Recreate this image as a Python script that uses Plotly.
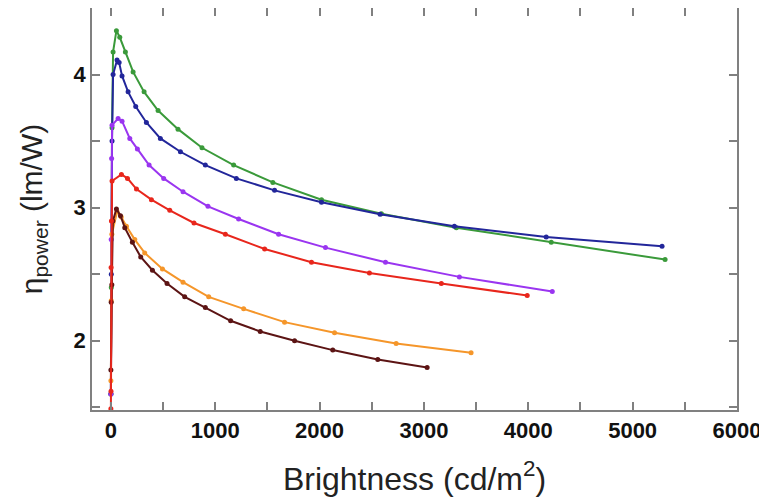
import plotly.graph_objects as go

# Brightness (cd/m^2) and power efficiency (lm/W) for six devices
green_x = [1, 5, 12, 22, 54, 86, 140, 214, 319, 453, 644, 874, 1177, 1553, 2019, 2593, 3311, 4220, 5311]
green_y = [1.6, 2.4, 3.6, 4.17, 4.33, 4.28, 4.17, 4.02, 3.87, 3.73, 3.59, 3.45, 3.32, 3.19, 3.06, 2.955, 2.85, 2.74, 2.61]

blue_x = [1, 5, 12, 22, 60, 80, 108, 166, 239, 341, 475, 667, 906, 1203, 1569, 2019, 2580, 3292, 4172, 5282]
blue_y = [1.6, 2.5, 3.5, 4.0, 4.11, 4.09, 3.99, 3.87, 3.76, 3.64, 3.52, 3.42, 3.32, 3.22, 3.13, 3.04, 2.95, 2.86, 2.78, 2.71]

purple_x = [1, 4, 8, 12, 70, 108, 182, 255, 367, 507, 692, 931, 1225, 1608, 2057, 2632, 3340, 4230]
purple_y = [1.6, 2.76, 3.37, 3.62, 3.67, 3.65, 3.52, 3.44, 3.32, 3.22, 3.12, 3.01, 2.915, 2.80, 2.70, 2.59, 2.48, 2.37]

red_x = [1, 2, 3, 6, 12, 102, 160, 246, 389, 565, 797, 1098, 1474, 1923, 2478, 3167, 3990]
red_y = [1.49, 1.62, 2.55, 2.9, 3.20, 3.25, 3.22, 3.14, 3.06, 2.98, 2.885, 2.80, 2.69, 2.59, 2.51, 2.43, 2.34]

orange_x = [1, 4, 10, 60, 100, 150, 230, 325, 495, 692, 938, 1273, 1665, 2144, 2734, 3452]
orange_y = [1.7, 2.3, 2.8, 2.97, 2.93, 2.86, 2.76, 2.66, 2.54, 2.44, 2.33, 2.24, 2.14, 2.06, 1.98, 1.91]

brown_x = [1, 4, 10, 20, 54, 93, 134, 207, 287, 399, 539, 708, 906, 1148, 1432, 1761, 2127, 2558, 3031]
brown_y = [1.78, 2.29, 2.42, 2.9, 2.99, 2.94, 2.85, 2.74, 2.63, 2.53, 2.43, 2.33, 2.25, 2.15, 2.07, 2.00, 1.93, 1.86, 1.80]

x_ticks = [0, 1000, 2000, 3000, 4000, 5000, 6000]
y_ticks = [2, 3, 4]

series = [
    (green_x, green_y, "#3a9a3a"),
    (blue_x, blue_y, "#22269a"),
    (purple_x, purple_y, "#9a35f0"),
    (orange_x, orange_y, "#f5962a"),
    (brown_x, brown_y, "#5c1414"),
    (red_x, red_y, "#e8261c"),
]

fig = go.Figure()
for xs, ys, c in series:
    fig.add_trace(go.Scatter(x=xs, y=ys, mode="lines+markers",
                             line=dict(color=c, width=2),
                             marker=dict(color=c, size=5),
                             cliponaxis=True, showlegend=False))

axis_common = dict(showline=True, mirror="ticks", linecolor="#808080", linewidth=1.5,
                   ticks="inside", ticklen=8, tickcolor="#808080", tickwidth=1.5,
                   showgrid=False, zeroline=False, automargin=False,
                   tickfont=dict(family="Liberation Sans, Arial", size=22, color="#111111", weight="bold"))

fig.update_xaxes(range=[-180, 6000], tickvals=x_ticks,
                 minor=dict(dtick=500, tick0=0, ticks="inside", ticklen=8, tickcolor="#808080", tickwidth=1.5),
                 title=dict(text="Brightness (cd/m<sup>2</sup>)", standoff=25,
                            font=dict(family="Liberation Sans, Arial", size=32, color="#222222")),
                 **axis_common)
fig.update_yaxes(range=[1.48, 4.5], tickvals=y_ticks,
                 minor=dict(dtick=0.5, tick0=0, ticks="inside", ticklen=8, tickcolor="#808080", tickwidth=1.5),
                 title=dict(text="η<sub>power</sub> (lm/W)", standoff=22,
                            font=dict(family="Liberation Sans, Arial", size=30, color="#222222")),
                 **axis_common)

# the page body has an 8px default margin, so the figure is sized/offset to compensate
fig.update_layout(width=759, height=493, margin=dict(l=84, r=30, t=0, b=91),
                  plot_bgcolor="white", paper_bgcolor="white")

fig.write_html("out.html")
